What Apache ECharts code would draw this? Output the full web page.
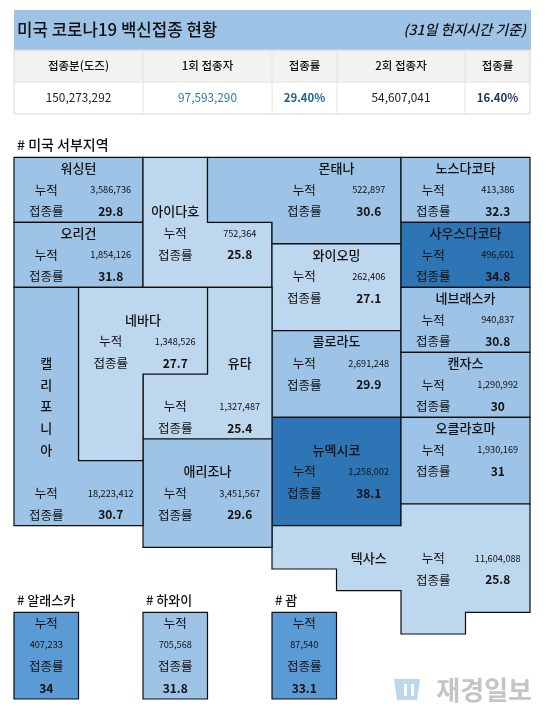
<!DOCTYPE html>
<html>
<head>
<meta charset="utf-8">
<style>
  html, body { margin: 0; padding: 0; background: #fff; }
  #map { width: 546px; height: 714px; }
</style>
</head>
<body>
<div id="map"></div>
<script src="https://cdn.jsdelivr.net/npm/echarts@6/dist/echarts.min.js"></script>
<script>
// data
const stateNames = ['워싱턴','오리건','아이다호','몬태나','와이오밍','콜로라도','뉴멕시코','노스다코타','사우스다코타','네브래스카','캔자스','오클라호마','텍사스','유타','애리조나','네바다','캘리포니아','알래스카','하와이','괌'];
const cumulative = [3586736,1854126,752364,522897,262406,2691248,1258002,413386,496601,940837,1290992,1930169,11604088,1327487,3451567,1348526,18223412,407233,705568,87540];
const rates = [29.8,31.8,25.8,30.6,27.1,29.9,38.1,32.3,34.8,30.8,30,31,25.8,25.4,29.6,27.7,30.7,34,31.8,33.1];

const tableHeads = ['접종분(도즈)','1회 접종자','접종률','2회 접종자','접종률'];
const tableValues = ['150,273,292','97,593,290','29.40%','54,607,041','16.40%'];

// tile layout in grid cells [col,row], same order as stateNames
const outlines = [
  [[0,0],[2,0],[2,3],[0,3]],
  [[0,3],[2,3],[2,6],[0,6]],
  [[2,0],[3,0],[3,3],[4,3],[4,6],[2,6]],
  [[3,0],[6,0],[6,4],[4,4],[4,3],[3,3]],
  [[4,4],[6,4],[6,8],[4,8]],
  [[4,8],[6,8],[6,12],[4,12]],
  [[4,12],[6,12],[6,17],[4,17]],
  [[6,0],[8,0],[8,3],[6,3]],
  [[6,3],[8,3],[8,6],[6,6]],
  [[6,6],[8,6],[8,9],[6,9]],
  [[6,9],[8,9],[8,12],[6,12]],
  [[6,12],[8,12],[8,16],[6,16]],
  [[6,16],[8,16],[8,21],[7,21],[7,22],[6,22],[6,20],[5,20],[5,19],[4,19],[4,17],[6,17]],
  [[3,6],[4,6],[4,13],[2,13],[2,10],[3,10]],
  [[2,13],[4,13],[4,18],[2,18]],
  [[1,6],[3,6],[3,10],[2,10],[2,14],[1,14]],
  [[0,6],[1,6],[1,14],[2,14],[2,17],[0,17]],
  [[0,21],[1,21],[1,25],[0,25]],
  [[2,21],[3,21],[3,25],[2,25]],
  [[4,21],[5,21],[5,25],[4,25]]
];
// name centre, then left column and row of the 누적 line (rate line sits one row below)
const nameAt = [[1,.5],[1,3.5],[2.5,2.5],[5,.5],[5,4.5],[5,8.5],[5,13.5],[7,.5],[7,3.5],[7,6.5],[7,9.5],[7,12.5],[5.5,18.5],[3.5,9.5],[3,14.5],[2,7.5],null,null,null,null];
const blockAt = [[.5,1.5],[.5,4.5],[2.5,3.5],[4.5,1.5],[4.5,5.5],[4.5,9.5],[4.5,14.5],[6.5,1.5],[6.5,4.5],[6.5,7.5],[6.5,10.5],[6.5,13.5],[6.5,18.5],[2.5,11.5],[2.5,15.5],[1.5,8.5],[.5,15.5]];
const insetLabels = ['# 알래스카','# 하와이','# 괌'];

const FONT = '"Noto Sans CJK KR", "Noto Sans", sans-serif';
const INK = '#111';
const fmt = n => n.toLocaleString('en-US');

function renderState(params, api){
  const i = params.dataIndex;
  const at = (c, r) => api.coord([c, r]);
  const txt = (c, r, text, font) => {
    const p = at(c, r);
    return { type:'text', style:{ text, x:p[0], y:p[1], align:'center', verticalAlign:'middle', font, fill:INK } };
  };
  const nameFont = '500 13px ' + FONT, labelFont = '12.5px ' + FONT,
        numFont = '9.2px ' + FONT, rateFont = 'bold 12px ' + FONT;
  const kids = [{
    type:'polygon',
    shape:{ points: outlines[i].map(v => at(v[0], v[1])) },
    style:{ fill: api.visual('color'), stroke:'#0d0d0d', lineWidth:1.2 }
  }];

  if (i >= 17) {
    // inset boxes stack all four lines in one column
    const c = outlines[i][0][0] + .5, r = outlines[i][0][1];
    kids.push(txt(c, r+.5, '누적', labelFont), txt(c, r+1.5, fmt(cumulative[i]), numFont),
              txt(c, r+2.5, '접종률', labelFont), txt(c, r+3.5, String(rates[i]), rateFont));
    return { type:'group', children:kids };
  }
  if (i === 16) {
    // 캘리포니아 is written top to bottom
    stateNames[i].split('').forEach((ch, k) => kids.push(txt(.5, 9.5+k, ch, nameFont)));
  } else {
    kids.push(txt(nameAt[i][0], nameAt[i][1], stateNames[i], nameFont));
  }
  const b = blockAt[i];
  kids.push(txt(b[0], b[1], '누적', labelFont), txt(b[0]+1, b[1], fmt(cumulative[i]), numFont),
            txt(b[0], b[1]+1, '접종률', labelFont), txt(b[0]+1, b[1]+1, String(rates[i]), rateFont));
  return { type:'group', children:kids };
}

// top table, title band and watermark are plain graphics
const colEdges = [14, 143, 272, 337, 465, 530];
const tableGraphics = [
  { type:'rect', shape:{ x:14, y:10, width:517, height:40 }, style:{ fill:'#9dc3e6' } },
  { type:'text', style:{ text:'미국 코로나19 백신접종 현황', x:17, y:30, verticalAlign:'middle', font:'500 16.8px '+FONT, fill:INK } },
  { type:'text', style:{ text:'(31일 현지시간 기준)', x:526, y:30, align:'right', verticalAlign:'middle', font:'italic 500 14px '+FONT, fill:'#111' } },
  { type:'rect', shape:{ x:14, y:50, width:516, height:32 }, style:{ fill:'#f2f2f2' } },
  { type:'rect', shape:{ x:14, y:50, width:516, height:64 }, style:{ fill:'none', stroke:'#d9d9d9', lineWidth:1 } },
  { type:'line', shape:{ x1:14, y1:82, x2:530, y2:82 }, style:{ stroke:'#e4e4e4', lineWidth:1 } },
  { type:'text', style:{ text:'# 미국 서부지역', x:17, y:145, verticalAlign:'middle', font:'500 14px '+FONT, fill:INK } }
];
colEdges.slice(1, -1).forEach(x => tableGraphics.push(
  { type:'line', shape:{ x1:x, y1:50, x2:x, y2:114 }, style:{ stroke:'#e4e4e4', lineWidth:1 } }));
const valueStyle = [
  ['11.8px', '#222'], ['11.8px', '#2e75b6'], ['bold 11.4px', '#1f6391'], ['11.8px', '#222'], ['bold 11.4px', '#1f3864']
];
tableHeads.forEach((h, k) => {
  const x = (colEdges[k] + colEdges[k+1]) / 2;
  tableGraphics.push(
    { type:'text', style:{ text:h, x, y:66, align:'center', verticalAlign:'middle', font:'500 11.5px '+FONT, fill:INK } },
    { type:'text', style:{ text:tableValues[k], x, y:98, align:'center', verticalAlign:'middle', font:valueStyle[k][0]+' '+FONT, fill:valueStyle[k][1] } }
  );
});
[17, 146, 275].forEach((x, k) => tableGraphics.push(
  { type:'text', style:{ text:insetLabels[k], x, y:600, verticalAlign:'middle', font:'500 13px '+FONT, fill:INK } }));
tableGraphics.push(
  { type:'polygon', shape:{ points:[[394,679],[420,679],[417,700],[397,700]] }, style:{ fill:'#bcd6ec' } },
  { type:'rect', shape:{ x:404, y:684, width:3, height:12 }, style:{ fill:'#fff' } },
  { type:'rect', shape:{ x:411, y:684, width:3, height:12 }, style:{ fill:'#fff' } },
  { type:'text', style:{ text:'재경일보', x:532, y:690, align:'right', verticalAlign:'middle', font:'bold 26px '+FONT, fill:'#c4c4c4' } }
);

const chart = echarts.init(document.getElementById('map'), null, { renderer:'canvas' });
chart.setOption({
  animation:false,
  backgroundColor:'#fff',
  grid:{ left:14, top:157.3, width:516, height:541.7 },
  xAxis:{ type:'value', min:0, max:8, show:false },
  yAxis:{ type:'value', min:0, max:25, inverse:true, show:false },
  visualMap:{
    show:false, seriesIndex:0, dimension:1,
    pieces:[
      { lt:28, color:'#bdd7ee' },
      { gte:28, lt:33, color:'#9dc3e6' },
      { gte:33, lt:34.5, color:'#5b9bd5' },
      { gte:34.5, color:'#2e75b6' }
    ]
  },
  graphic:tableGraphics,
  series:[{
    type:'custom',
    renderItem:renderState,
    data:stateNames.map((n, i) => [i, rates[i]]),
    encode:{ x:-1, y:-1 },
    silent:true
  }]
});
</script>
</body>
</html>
